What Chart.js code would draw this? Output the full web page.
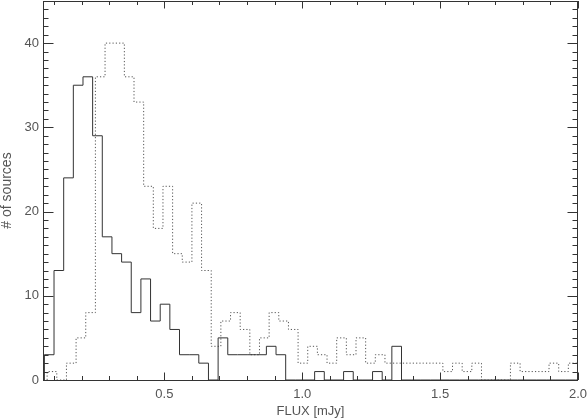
<!DOCTYPE html>
<html>
<head>
<meta charset="utf-8">
<script src="https://cdn.jsdelivr.net/npm/chart.js@4"></script>
<style>
  html, body { margin: 0; padding: 0; background: #fff; }
  #wrap { width: 588px; height: 420px; }
</style>
</head>
<body>
<div id="wrap"><canvas id="c" width="588" height="420"></canvas></div>
<script>
/* histogram data */
const binWidth = 0.035;

// solid histogram, first bin starts at 0.065 mJy
const solidStart = 0.065;
const solidCounts = [3, 13, 24, 35, 36, 29, 17, 15, 14, 8, 12, 7, 9, 6, 3, 3, 2, 0, 5, 3,
  3, 3, 3, 4, 3, 0, 0, 0, 1, 0, 0, 1, 0, 0, 1, 0, 4, 0, 0, 0,
  0, 0, 0, 0, 0, 0, 0, 0, 0, 0, 0, 0, 0, 0, 0, 0];

// dotted histogram, first bin starts at 0.075 mJy
const dottedStart = 0.075;
const dottedCounts = [1, 0, 2, 5, 8, 36, 40, 40, 36, 33, 23, 18, 23, 15, 14, 21, 13, 4, 7, 8,
  6, 3, 5, 8, 7, 6, 2, 4, 3, 2, 5, 3, 5, 2, 3, 2, 2, 2, 2, 2,
  2, 1, 2, 1, 2, 0, 0, 0, 2, 1, 1, 1, 2, 1, 2];

const xTickLabels = [0.5, 1.0, 1.5, 2.0];
const yTickLabels = [0, 10, 20, 30, 40];

const textColor = '#555';
const fontFamily = "'Liberation Sans', 'DejaVu Sans', sans-serif";

// turn bin counts into step points
function steps(start, counts) {
  const pts = [{ x: start, y: 0 }];
  counts.forEach((c, i) => pts.push({ x: start + i * binWidth, y: c }));
  const end = start + counts.length * binWidth;
  pts.push({ x: end, y: counts[counts.length - 1] });
  pts.push({ x: end, y: 0 });
  return pts;
}

// no extra room for half labels, the plot box is fixed
function noPad(s) {
  s.paddingTop = 0; s.paddingBottom = 0;
  s.paddingLeft = 0; s.paddingRight = 0;
}

// box and inward tick marks on all four sides
const frame = {
  id: 'frame',
  afterDatasetsDraw(chart) {
    const { ctx, chartArea: a, scales: { x, y } } = chart;
    ctx.save();
    ctx.strokeStyle = '#333';
    ctx.lineWidth = 1;
    ctx.strokeRect(a.left + 0.5, a.top + 0.5, a.right - a.left - 1, a.bottom - a.top);
    ctx.beginPath();
    for (let k = 1; k <= 20; k++) {
      const px = Math.round(x.getPixelForValue(k / 10)) + 0.5;
      const len = k % 5 === 0 ? 7.5 : 4;
      ctx.moveTo(px, a.bottom); ctx.lineTo(px, a.bottom - len);
      ctx.moveTo(px, a.top); ctx.lineTo(px, a.top + len);
    }
    for (let v = 1; v < 45; v++) {
      const py = Math.round(y.getPixelForValue(v)) + 0.5;
      const len = v % 10 === 0 ? 10.5 : 5.5;
      ctx.moveTo(a.left, py); ctx.lineTo(a.left + len, py);
      ctx.moveTo(a.right, py); ctx.lineTo(a.right - len, py);
    }
    ctx.stroke();
    ctx.restore();
  }
};

new Chart(document.getElementById('c'), {
  type: 'line',
  data: {
    datasets: [
      {
        label: 'solid',
        data: steps(solidStart, solidCounts),
        borderColor: '#333',
        borderWidth: 1,
        stepped: 'before',
        pointRadius: 0,
        fill: false
      },
      {
        label: 'dotted',
        data: steps(dottedStart, dottedCounts),
        borderColor: '#555',
        borderWidth: 1,
        borderDash: [1.2, 2.1],
        stepped: 'before',
        pointRadius: 0,
        fill: false
      }
    ]
  },
  options: {
    responsive: false,
    animation: false,
    layout: { padding: { top: 1, right: 10, left: 0, bottom: 0 } },
    plugins: { legend: { display: false }, tooltip: { enabled: false } },
    scales: {
      x: {
        type: 'linear',
        min: 0.06,
        max: 2.0,
        grid: { display: false, drawTicks: false },
        border: { display: false },
        afterBuildTicks: s => { s.ticks = xTickLabels.map(v => ({ value: v })); },
        afterFit: s => { s.height = 40; noPad(s); },
        ticks: {
          padding: 7,
          color: textColor,
          font: { family: fontFamily, size: 13 },
          maxRotation: 0,
          callback: v => v.toFixed(1)
        },
        title: {
          display: true,
          text: 'FLUX [mJy]',
          color: textColor,
          font: { family: fontFamily, size: 13, lineHeight: 1 },
          padding: { top: 0, bottom: 2 }
        }
      },
      y: {
        min: 0,
        max: 45,
        grid: { display: false, drawTicks: false },
        border: { display: false },
        afterBuildTicks: s => { s.ticks = yTickLabels.map(v => ({ value: v })); },
        afterFit: s => { s.width = 43; noPad(s); },
        ticks: {
          padding: 4,
          color: textColor,
          font: { family: fontFamily, size: 13 }
        },
        title: {
          display: true,
          text: '# of sources',
          color: textColor,
          font: { family: fontFamily, size: 14, lineHeight: 1 },
          padding: { top: 0, bottom: 0 }
        }
      }
    }
  },
  plugins: [frame]
});
</script>
</body>
</html>
